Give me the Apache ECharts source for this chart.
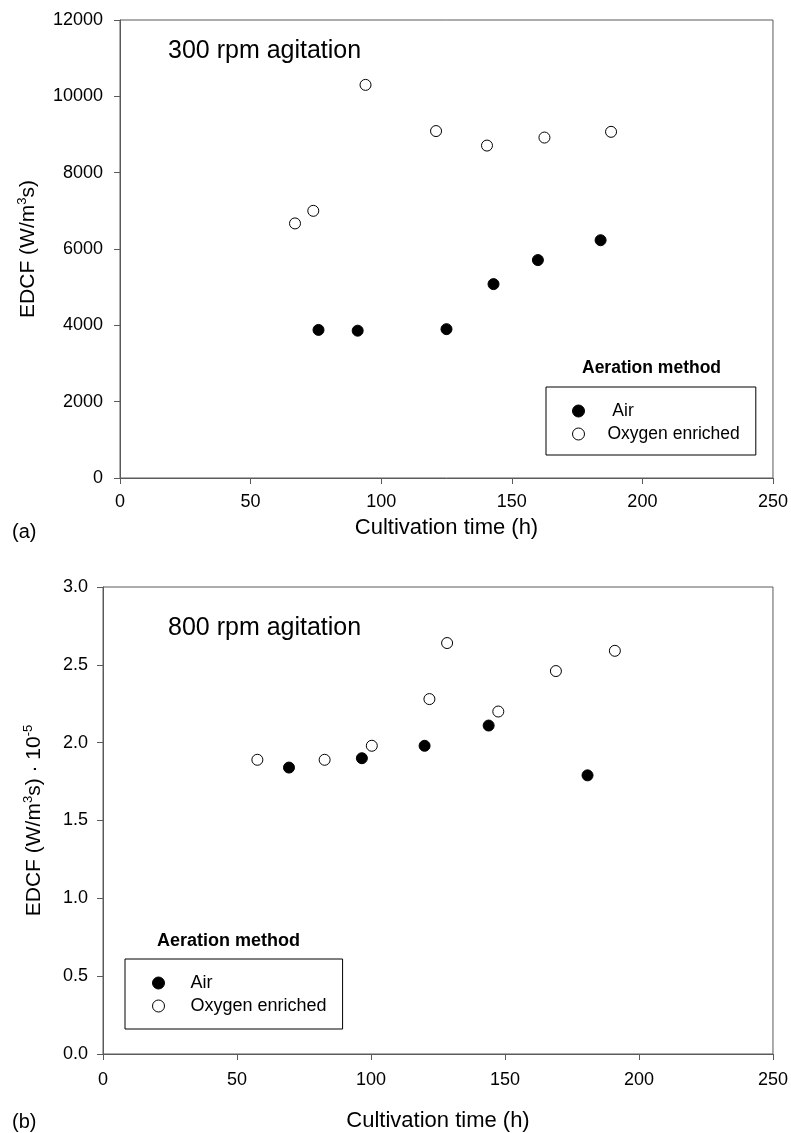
<!DOCTYPE html>
<html>
<head>
<meta charset="utf-8">
<script src="https://cdn.jsdelivr.net/npm/echarts@6/dist/echarts.min.js"></script>
<style>
  html, body { margin: 0; padding: 0; background: #fff; }
  #chart { width: 791px; height: 1133px; }
</style>
</head>
<body>
<div id="chart"></div>
<script>
// (a) 300 rpm agitation
const airTime300 = [76, 91, 125, 143, 160, 184];
const airEdcf300 = [3880, 3860, 3900, 5080, 5710, 6230];
const oxyTime300 = [67, 74, 94, 121, 140.5, 162.5, 188];
const oxyEdcf300 = [6670, 7000, 10300, 9090, 8710, 8920, 9070];

// (b) 800 rpm agitation, EDCF in units of 10^5 W/(m3 s)
const airTime800 = [69.4, 96.6, 120, 143.9, 180.8];
const airEdcf800 = [1.84, 1.90, 1.98, 2.11, 1.79];
const oxyTime800 = [57.6, 82.7, 100.3, 121.8, 128.4, 147.5, 169, 191];
const oxyEdcf800 = [1.89, 1.89, 1.98, 2.28, 2.64, 2.20, 2.46, 2.59];

const timeTicks = { min: 0, max: 250, interval: 50 };
const edcfTicks300 = { min: 0, max: 12000, interval: 2000 };
const edcfTicks800 = { min: 0, max: 3, interval: 0.5 };

const seriesNames = ['Air', 'Oxygen enriched'];

const FONT = '"Liberation Sans", Arial, Helvetica, sans-serif';
const AXIS_GREY = '#5a5a5a';

function pairs(xs, ys) { return xs.map((x, i) => [x, ys[i]]); }

function xAxisCfg(gridIndex, nameGap, labelMargin) {
  return {
    type: 'value', gridIndex,
    min: timeTicks.min, max: timeTicks.max, interval: timeTicks.interval,
    name: 'Cultivation time (h)', nameLocation: 'middle', nameGap,
    nameTextStyle: { fontFamily: FONT, fontSize: 22, color: '#000' },
    axisLine: { show: true, lineStyle: { color: AXIS_GREY, width: 1 } },
    axisTick: { show: true, length: 6, lineStyle: { color: AXIS_GREY } },
    axisLabel: { fontFamily: FONT, fontSize: 18, color: '#000', margin: labelMargin },
    splitLine: { show: false }
  };
}

function yAxisCfg(gridIndex, ticks, name, nameGap, labelMargin, fmt) {
  return {
    type: 'value', gridIndex,
    min: ticks.min, max: ticks.max, interval: ticks.interval,
    name, nameLocation: 'middle', nameGap, nameRotate: 90,
    nameTextStyle: {
      fontFamily: FONT, fontSize: 21, color: '#000', lineHeight: 24,
      rich: {
        b: { fontFamily: FONT, fontSize: 21, color: '#000', lineHeight: 24 },
        sup: { fontFamily: FONT, fontSize: 13, color: '#000', lineHeight: 13, verticalAlign: 'top' }
      }
    },
    axisLine: { show: true, lineStyle: { color: AXIS_GREY, width: 1 } },
    axisTick: { show: true, length: 6, lineStyle: { color: AXIS_GREY } },
    axisLabel: { fontFamily: FONT, fontSize: 18, color: '#000', margin: labelMargin, formatter: fmt },
    splitLine: { show: false }
  };
}

const filled = { color: '#000', borderColor: '#000', borderWidth: 1, opacity: 1 };
const open = { color: '#fff', borderColor: '#000', borderWidth: 1, opacity: 1 };

function legendCfg(left, top, itemWidth, fontSize, padding, formatter) {
  return {
    orient: 'vertical', left, top,
    data: seriesNames, selectedMode: false,
    itemWidth, itemHeight: 12, itemGap: 5,
    itemStyle: { borderWidth: 1 },
    padding, borderColor: '#000', borderWidth: 1,
    textStyle: { fontFamily: FONT, fontSize, color: '#000' },
    formatter
  };
}

const option = {
  backgroundColor: '#fff',
  animation: false,
  title: [
    { text: '300 rpm agitation', left: 168, top: 39, padding: 0,
      textStyle: { fontFamily: FONT, fontSize: 25, fontWeight: 'normal', color: '#000' } },
    { text: '800 rpm agitation', left: 168, top: 616, padding: 0,
      textStyle: { fontFamily: FONT, fontSize: 25, fontWeight: 'normal', color: '#000' } },
    { text: '(a)', left: 12, top: 522, padding: 0,
      textStyle: { fontFamily: FONT, fontSize: 20, fontWeight: 'normal', color: '#000' } },
    { text: '(b)', left: 12, top: 1112, padding: 0,
      textStyle: { fontFamily: FONT, fontSize: 20, fontWeight: 'normal', color: '#000' } },
    { text: 'Aeration method', left: 582, top: 359, padding: 0,
      textStyle: { fontFamily: FONT, fontSize: 17.5, fontWeight: 'bold', color: '#000' } },
    { text: 'Aeration method', left: 157, top: 932, padding: 0,
      textStyle: { fontFamily: FONT, fontSize: 18, fontWeight: 'bold', color: '#000' } }
  ],
  grid: [
    { left: 120, top: 20, width: 654, height: 458, show: true,
      borderColor: AXIS_GREY, borderWidth: 1, backgroundColor: 'transparent' },
    { left: 103, top: 587, width: 671, height: 469, show: true,
      borderColor: AXIS_GREY, borderWidth: 1, backgroundColor: 'transparent' }
  ],
  xAxis: [ xAxisCfg(0, 39, 15), xAxisCfg(1, 56, 17) ],
  yAxis: [
    yAxisCfg(0, edcfTicks300, '{b|EDCF (W/m}{sup|3}{b|s)}', 80, 17, v => String(v)),
    yAxisCfg(1, edcfTicks800, '{b|EDCF (W/m}{sup|3}{b|s) · 10}{sup|-5}', 57, 15, v => v.toFixed(1))
  ],
  legend: [
    legendCfg(546, 387, 48, 17.5, [15, 16, 12, 26], n => (n === 'Air' ? ' Air' : n)),
    legendCfg(125, 959, 54, 18, [15, 16, 14, 27], n => n)
  ],
  series: [
    { name: 'Air', type: 'scatter', xAxisIndex: 0, yAxisIndex: 0, symbol: 'circle', symbolSize: 11,
      itemStyle: filled, data: pairs(airTime300, airEdcf300) },
    { name: 'Oxygen enriched', type: 'scatter', xAxisIndex: 0, yAxisIndex: 0, symbol: 'circle', symbolSize: 11,
      itemStyle: open, data: pairs(oxyTime300, oxyEdcf300) },
    { name: 'Air', type: 'scatter', xAxisIndex: 1, yAxisIndex: 1, symbol: 'circle', symbolSize: 11,
      itemStyle: filled, data: pairs(airTime800, airEdcf800) },
    { name: 'Oxygen enriched', type: 'scatter', xAxisIndex: 1, yAxisIndex: 1, symbol: 'circle', symbolSize: 11,
      itemStyle: open, data: pairs(oxyTime800, oxyEdcf800) }
  ]
};

const chart = echarts.init(document.getElementById('chart'), null, { renderer: 'canvas' });
chart.setOption(option);
</script>
</body>
</html>
